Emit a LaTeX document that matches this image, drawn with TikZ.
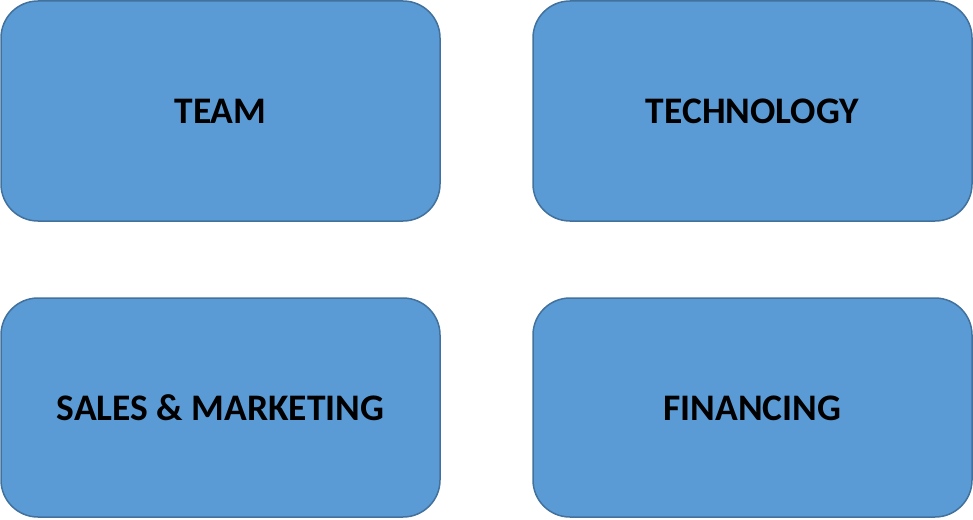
\documentclass[tikz,border=0pt]{standalone}
\usepackage{fontspec}
\setmainfont{Carlito}
\definecolor{boxfill}{HTML}{5B9BD5}
\definecolor{boxline}{HTML}{41719C}
\begin{document}
\begin{tikzpicture}[x=1pt,y=-1pt,
  card/.style={draw=boxline, line width=1.5pt, fill=boxfill, rounded corners=37pt},
  lbl/.style={font=\fontsize{37.5}{44}\selectfont\bfseries, text=black}]
\useasboundingbox (0,0) rectangle (973,519);
\draw[card] (1,1) rectangle (440,221);
\draw[card] (533,1) rectangle (972,221);
\draw[card] (1,298) rectangle (440,517);
\draw[card] (533,298) rectangle (972,517);
\node[lbl] (team) at (220.5,111) {TEAM};
\node[lbl] (tech) at (752.5,111) {TECHNOLOGY};
\node[lbl] (sales) at (220.5,408) {SALES \& MARKETING};
\node[lbl] (fin) at (752.5,408) {FINANCING};
\end{tikzpicture}
\end{document}
